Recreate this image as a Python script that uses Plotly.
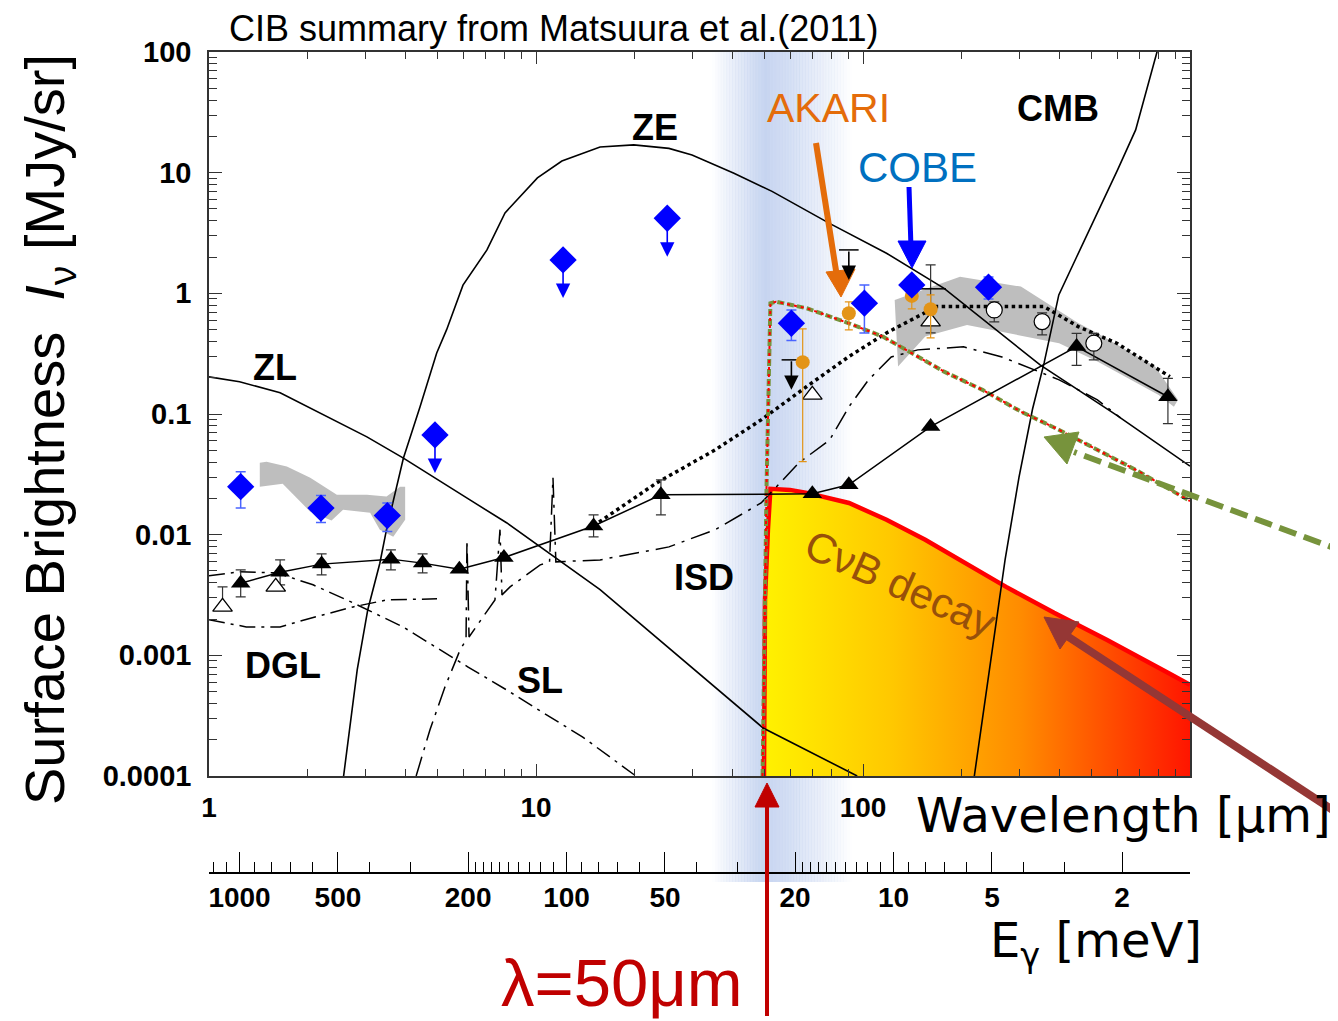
import numpy as np
import plotly.graph_objects as go

# ---------------- data: wavelength [um], surface brightness [MJy/sr] ----------------
zl_wl = [1.0, 1.24, 1.65, 2.19, 3.04, 3.92, 4.84, 6.28, 8.15, 10.1, 15.7, 49.5, 96.0]
zl_I = [0.203, 0.185, 0.150, 0.102, 0.0646, 0.0433, 0.0301, 0.0194, 0.0125, 0.0082, 0.0035, 0.00025, 0.0001]

ze_wl = [2.58, 2.84, 3.06, 3.33, 3.49, 3.93, 4.42, 4.97, 5.33, 5.98, 7.08, 8.04, 10.1, 12.0, 15.7,
         19.9, 25.5, 30.0, 40.3, 52.7, 79.0, 118, 177, 348, 596, 1000]
ze_I = [1e-4, 7.6e-4, 2.4e-3, 5.8e-3, 0.011, 0.043, 0.115, 0.32, 0.50, 1.17, 2.29, 4.64, 9.04, 12.5, 16.3,
        17.0, 15.9, 14.0, 9.9, 7.0, 3.8, 2.15, 1.1, 0.255, 0.098, 0.037]

cmb_wl = [219, 245, 272, 300, 330, 358, 397, 450, 521, 600, 682, 750, 792, 820]
cmb_I = [1e-4, 8.4e-4, 0.0062, 0.03, 0.11, 0.265, 0.97, 2.0, 4.6, 10.5, 22.6, 57, 98, 140]

sl_wl = [1.0, 1.24, 1.61, 2.08, 2.76, 3.92, 6.20, 8.10, 10.6, 13.9, 20.2]
sl_I = [0.00456, 0.00492, 0.00483, 0.00384, 0.00272, 0.00172, 0.00080, 0.00052, 0.00033, 0.00021, 0.0001]

dgl_wl = [1.0, 1.30, 1.65, 2.11, 2.76, 3.50, 4.98]
dgl_I = [0.00197, 0.00172, 0.00172, 0.00208, 0.00252, 0.00288, 0.00294]

isd_wl = [4.30, 4.74, 5.27, 5.86, 6.11, 6.15, 6.24, 6.70, 7.49, 7.76, 7.87, 8.33, 10.3, 11.0, 11.27, 11.5,
          15.7, 25.5, 35.3, 48.8, 63.7, 79.1, 90.5, 104, 122, 147, 203, 266, 398, 521, 613]
isd_I = [1e-4, 2.42e-4, 5.48e-4, 1.11e-3, 1.34e-3, 9.06e-3, 1.42e-3, 1.86e-3, 2.88e-3, 0.011, 3.17e-3,
         3.69e-3, 5.62e-3, 5.95e-3, 0.0296, 5.95e-3, 6.18e-3, 7.92e-3, 0.011, 0.0183, 0.0394, 0.061,
         0.1145, 0.192, 0.297, 0.34, 0.36, 0.297, 0.192, 0.131, 0.093]

cib_model_wl = [14.97, 23.4, 35.3, 48.8, 67.3, 90.5, 118, 155, 168, 358, 455, 597, 868]
cib_model_I = [0.0118, 0.0269, 0.0504, 0.0894, 0.169, 0.299, 0.47, 0.688, 0.776, 0.776, 0.53, 0.386, 0.204]

limit_wl = [49.3, 50.0, 50.7, 52.1, 54.2, 67.3, 90.5, 115, 135, 177, 232, 304, 398, 521, 683, 1000]
limit_I = [1e-4, 2.88e-3, 0.025, 0.828, 0.853, 0.752, 0.565, 0.438, 0.34, 0.2245, 0.1585, 0.1047,
           0.0738, 0.0504, 0.0344, 0.019]

cnb_wl = [49.8, 50.15, 51.2, 52.1, 59.8, 67.4, 90.6, 118, 155, 204, 274, 384, 558, 856, 1000, 1000]
cnb_I = [1e-4, 2.88e-3, 0.011, 0.024, 0.0235, 0.0222, 0.0183, 0.0133, 0.00906, 0.00584, 0.00369,
         0.00225, 0.00134, 0.000716, 0.00057, 1e-4]

nir_band_wl = [1.43, 1.50, 1.73, 2.04, 2.46, 3.04, 3.49, 3.84, 3.98,
               3.98, 3.66, 3.33, 3.11, 2.57, 2.37, 2.04, 1.68, 1.43]
nir_band_I = [0.0394, 0.0403, 0.0367, 0.0296, 0.0214, 0.0214, 0.0207, 0.0250, 0.0250,
              0.0133, 0.0096, 0.0110, 0.0152, 0.0161, 0.0131, 0.0155, 0.0264, 0.0250]

fir_band_wl = [125, 198, 304, 455, 521, 782, 919, 893, 802, 521, 398, 208, 155, 128]
fir_band_I = [0.882, 1.375, 1.137, 0.569, 0.467, 0.247, 0.131, 0.115, 0.144, 0.272, 0.386, 0.547, 0.438, 0.247]

tri_wl = [1.25, 1.65, 2.21, 3.60, 4.50, 5.83, 7.98, 15.0, 24.1, 70.0, 90.5, 161, 450, 856]
tri_I = [3.96e-3, 4.89e-3, 5.70e-3, 6.27e-3, 5.81e-3, 5.18e-3, 6.46e-3, 0.0118, 0.0214, 0.0218, 0.0259,
         0.0787, 0.362, 0.139]
tri_hi = [5.11e-3, 6.18e-3, 6.93e-3, 7.48e-3, 6.93e-3, None, None, 0.0146, 0.0284, None, None, None, 0.466, 0.197]
tri_lo = [3.05e-3, 3.84e-3, 4.65e-3, 5.11e-3, 4.83e-3, None, None, 0.0096, 0.0146, None, None, None, 0.253, 0.0833]

otri_wl = [1.10, 1.60, 70.0, 161]
otri_I = [2.52e-3, 3.69e-3, 0.144, 0.583]
otri_hi = [3.69e-3, None, None, 1.72]
otri_lo = [2.52e-3, None, None, 0.47]

dirbe_wl = [1.25, 2.20, 3.51, 60.4, 101, 141, 242]
dirbe_I = [0.0250, 0.0166, 0.0144, 0.565, 0.828, 1.174, 1.124]
dirbe_hi = [0.0333, 0.0211, 0.0183, 0.729, 1.174, 1.368, 1.368]
dirbe_lo = [0.0166, 0.0126, 0.0106, 0.406, 0.47, 1.0, 0.899]

dirbe_ul_wl = [4.91, 12.1, 25.2]
dirbe_ul_I = [0.0671, 1.89, 4.19]
dirbe_ul_tip = [0.0325, 0.916, 2.01]

akari_wl = [65.4, 90.5, 141, 161]
akari_I = [0.269, 0.684, 0.952, 0.739]
akari_hi = [0.507, 0.849, 1.174, 0.97]
akari_lo = [0.0403, 0.497, 0.743, 0.427]

ocirc_wl = [252, 353, 508]
ocirc_I = [0.729, 0.583, 0.386]
ocirc_hi = [0.849, 0.688, 0.466]
ocirc_lo = [0.58, 0.452, 0.281]

black_ul_wl = [60.4, 90.5]
black_ul_I = [0.281, 2.29]
black_ul_tip = [0.1585, 1.29]

bar_wl = [161]
bar_I = [1.09]

x_ticks = [1, 10, 100, 1000]
x_ticktext = ["1", "10", "100", ""]
y_ticks = [1e-4, 1e-3, 1e-2, 1e-1, 1, 10, 100]
y_ticktext = ["0.0001", "0.001", "0.01", "0.1", "1", "10", "100"]
e_ticks = [1000, 500, 200, 100, 50, 20, 10, 5, 2]
e_ticktext = ["1000", "500", "200", "100", "50", "20", "10", "5", "2"]
e_minor = [1200, 1100, 900, 800, 700, 600, 400, 300, 190, 180, 170, 160, 150, 140, 130, 120, 110,
           90, 80, 70, 60, 40, 30, 19, 18, 17, 16, 15, 14, 13, 12, 11, 9, 8, 7, 6, 4, 3]
HC = 1239.84  # meV * um

# ---------------- layout helpers (page pixels -> paper fractions) ----------------
BODY = 8                      # default body margin of the html page
L0, TOP, PW, PH = 209, 52, 981, 821
FIG_W, FIG_H = 1338 - BODY, 1021 - BODY


def PX(x):
    return (x - L0) / PW


def PY(y):
    return (TOP + PH - y) / PH


def err(vals, hi, lo):
    plus = [np.nan if h is None else h - v for v, h in zip(vals, hi)]
    minus = [np.nan if l is None else v - l for v, l in zip(vals, lo)]
    return plus, minus


BOLD = "Liberation Sans, Arial, sans-serif"
fig = go.Figure()

# gray bands
for bx, by in [(nir_band_wl, nir_band_I), (fir_band_wl, fir_band_I)]:
    fig.add_trace(go.Scatter(x=bx, y=by, mode="lines", fill="toself", fillcolor="#BEBEBE",
                             line=dict(width=0), hoverinfo="skip"))

# CvB decay region
fig.add_trace(go.Scatter(x=cnb_wl, y=cnb_I, mode="lines", fill="toself", line=dict(width=0),
                         fillgradient=dict(type="horizontal",
                                           colorscale=[[0, "#FFF200"], [0.3, "#FFC800"], [0.6, "#FF8C00"],
                                                       [1, "#FF1500"]]),
                         hoverinfo="skip"))
fig.add_trace(go.Scatter(x=cnb_wl[:-1], y=cnb_I[:-1], mode="lines", line=dict(color="#FF0000", width=4.5),
                         hoverinfo="skip"))

# model curves
for wx, wy in [(zl_wl, zl_I), (ze_wl, ze_I), (cmb_wl, cmb_I)]:
    fig.add_trace(go.Scatter(x=wx, y=wy, mode="lines", line=dict(color="black", width=1.6)))
for wx, wy in [(sl_wl, sl_I), (dgl_wl, dgl_I)]:
    fig.add_trace(go.Scatter(x=wx, y=wy, mode="lines",
                             line=dict(color="black", width=1.5, dash="16px,6px,3px,6px")))
fig.add_trace(go.Scatter(x=isd_wl, y=isd_I, mode="lines",
                         line=dict(color="black", width=1.5, dash="20px,7px,3px,7px")))
fig.add_trace(go.Scatter(x=cib_model_wl, y=cib_model_I, mode="lines",
                         line=dict(color="black", width=3.5, dash="dot")))
fig.add_trace(go.Scatter(x=limit_wl, y=limit_I, mode="lines",
                         line=dict(color="#77933C", width=4, dash="7px,3px")))
fig.add_trace(go.Scatter(x=limit_wl, y=limit_I, mode="lines",
                         line=dict(color="#FF0000", width=2, dash="3px,4px")))

# triangles with connecting line
p, m = err(tri_I, tri_hi, tri_lo)
fig.add_trace(go.Scatter(x=tri_wl, y=tri_I, mode="lines+markers",
                         line=dict(color="black", width=1.5),
                         marker=dict(symbol="triangle-up", size=17, color="black"),
                         error_y=dict(type="data", array=p, arrayminus=m, color="#333333",
                                      thickness=1.2, width=5)))
p, m = err(otri_I, otri_hi, otri_lo)
fig.add_trace(go.Scatter(x=otri_wl, y=otri_I, mode="markers",
                         marker=dict(symbol="triangle-up", size=17, color="white",
                                     line=dict(color="black", width=1.3)),
                         error_y=dict(type="data", array=p, arrayminus=m, color="#333333",
                                      thickness=1.2, width=5)))
fig.add_trace(go.Scatter(x=bar_wl, y=bar_I, mode="markers",
                         marker=dict(symbol="line-ew", size=22, line=dict(color="black", width=1.5))))
fig.add_trace(go.Scatter(x=black_ul_wl, y=black_ul_I, mode="markers",
                         marker=dict(symbol="line-ew", size=14, line=dict(color="black", width=1.5))))

# AKARI
p, m = err(akari_I, akari_hi, akari_lo)
fig.add_trace(go.Scatter(x=akari_wl, y=akari_I, mode="markers",
                         marker=dict(symbol="circle", size=14, color="#E39417"),
                         error_y=dict(type="data", array=p, arrayminus=m, color="#E39417",
                                      thickness=1.2, width=4)))
# open circles
p, m = err(ocirc_I, ocirc_hi, ocirc_lo)
fig.add_trace(go.Scatter(x=ocirc_wl, y=ocirc_I, mode="markers",
                         marker=dict(symbol="circle", size=16, color="white",
                                     line=dict(color="black", width=1.2)),
                         error_y=dict(type="data", array=p, arrayminus=m, color="#333333",
                                      thickness=1.2, width=5)))
# DIRBE
p, m = err(dirbe_I, dirbe_hi, dirbe_lo)
fig.add_trace(go.Scatter(x=dirbe_wl, y=dirbe_I, mode="markers",
                         marker=dict(symbol="diamond", size=21, color="#0000FF"),
                         error_y=dict(type="data", array=p, arrayminus=m, color="#4A64FF",
                                      thickness=1.5, width=5)))
fig.add_trace(go.Scatter(x=dirbe_ul_wl, y=dirbe_ul_I, mode="markers",
                         marker=dict(symbol="diamond", size=21, color="#0000FF")))

# dummy trace for the energy axis
fig.add_trace(go.Scatter(x=[HC / 1.0, HC / 1000.0], y=[1e-3, 1e-3], xaxis="x2", mode="markers",
                         marker=dict(opacity=0), hoverinfo="skip"))

ann = []
for w, v, t in zip(dirbe_ul_wl, dirbe_ul_I, dirbe_ul_tip):
    ann.append(dict(x=np.log10(w), y=np.log10(t), ax=np.log10(w), ay=np.log10(v), xref="x", yref="y",
                    axref="x", ayref="y", text="", showarrow=True, arrowhead=2, arrowsize=1.8,
                    arrowwidth=1.6, arrowcolor="#0000FF"))
for w, v, t in zip(black_ul_wl, black_ul_I, black_ul_tip):
    ann.append(dict(x=np.log10(w), y=np.log10(t), ax=np.log10(w), ay=np.log10(v), xref="x", yref="y",
                    axref="x", ayref="y", text="", showarrow=True, arrowhead=2, arrowsize=1.8,
                    arrowwidth=1.6, arrowcolor="black"))


def label(x, y, text, size, color="black", family=BOLD, angle=0):
    ann.append(dict(x=PX(x), y=PY(y), xref="paper", yref="paper", text=text, showarrow=False,
                    xanchor="center", yanchor="middle", textangle=angle, borderpad=0,
                    font=dict(family=family, size=size, color=color)))


label(554, 29, "CIB summary from Matsuura et al.(2011)", 36)
label(655, 127, "<b>ZE</b>", 36)
label(275, 367, "<b>ZL</b>", 36)
label(283, 665, "<b>DGL</b>", 36)
label(540, 680, "<b>SL</b>", 36)
label(704, 577, "<b>ISD</b>", 36)
label(1058, 108, "<b>CMB</b>", 36)
label(828, 108, "AKARI", 41, "#E46C0A")
label(917, 168, "COBE", 42, "#0070C0")
label(900, 583, "CνB decay", 42, "#98500A", angle=24)
label(1123, 815, "Wavelength [μm]", 48, family="DejaVu Sans")
label(1096, 944, "E<sub>γ</sub> [meV]", 48, family="DejaVu Sans")
label(622, 982, "λ=50μm", 67, "#C00000")
label(48, 430, "Surface Brightness  <i>I</i><sub>ν</sub> [MJy/sr]", 56, angle=-90)

shapes = []
# blue highlight band around 50 um
bl, bp, br, n = 712, 766, 852, 48
for i in range(n):
    x0 = bl + i * (br - bl) / n
    x1 = bl + (i + 1) * (br - bl) / n
    xm = 0.5 * (x0 + x1)
    a = (xm - bl) / (bp - bl) if xm < bp else (br - xm) / (br - bp)
    shapes.append(dict(type="rect", xref="paper", yref="paper", x0=PX(x0), x1=PX(x1) + 0.0005,
                       y0=PY(882), y1=PY(52), fillcolor=f"rgba(198,212,240,{a:.3f})",
                       line=dict(width=0), layer="below"))


def arrow(tail, neck, tip, b1, b2, color, width, dash=None):
    line = dict(color=color, width=width)
    if dash:
        line["dash"] = dash
    shapes.append(dict(type="line", xref="paper", yref="paper", x0=PX(tail[0]), y0=PY(tail[1]),
                       x1=PX(neck[0]), y1=PY(neck[1]), line=line))
    path = "M {},{} L {},{} L {},{} Z".format(PX(tip[0]), PY(tip[1]), PX(b1[0]), PY(b1[1]), PX(b2[0]), PY(b2[1]))
    shapes.append(dict(type="path", xref="paper", yref="paper", path=path, fillcolor=color,
                       line=dict(color=color, width=1)))


arrow((816, 143), (837, 277), (841, 297), (826, 272), (855, 269), "#E46C0A", 6)
arrow((909, 187), (911, 248), (912, 268), (898, 241), (926, 241), "#0000FF", 5)
arrow((767, 1016), (767, 802), (767, 783), (755, 807), (779, 807), "#C00000", 4)
arrow((1345, 552), (1074, 452), (1044, 437), (1079, 432), (1067, 464), "#77933C", 6, dash="18px,8px")
arrow((1345, 818), (1064, 634), (1044, 617), (1079, 622), (1060, 649), "#953735", 8)

tickfont = dict(family=BOLD, size=29, color="black", weight="bold")
fig.update_layout(
    width=FIG_W, height=FIG_H, showlegend=False,
    margin=dict(l=L0 - BODY, r=FIG_W - (L0 - BODY) - PW, t=TOP - BODY, b=FIG_H - (TOP - BODY) - PH,
                autoexpand=False),
    paper_bgcolor="white", plot_bgcolor="rgba(0,0,0,0)",
    xaxis=dict(type="log", range=[0, 3], domain=[0, 1], showgrid=False, zeroline=False,
               showline=True, linecolor="#333333", linewidth=1.6, mirror="ticks",
               ticks="inside", ticklen=12, tickwidth=1.4, tickcolor="#333333",
               tickvals=x_ticks, ticktext=x_ticktext, tickfont=dict(tickfont, size=28), ticklabelstandoff=6,
               minor=dict(ticks="inside", ticklen=7, tickwidth=1.2, tickcolor="#333333",
                          tickvals=[k * 10 ** e for e in range(3) for k in range(2, 10)])),
    xaxis2=dict(type="log", range=[np.log10(HC), np.log10(HC / 1000.0)], overlaying="x",
                anchor="free", position=0, side="bottom", showgrid=False, zeroline=False,
                showline=True, linecolor="black", linewidth=1.6,
                ticks="inside", ticklen=20, tickwidth=1.4, tickcolor="black",
                tickvals=e_ticks, ticktext=e_ticktext, tickfont=dict(tickfont, size=28), ticklabelstandoff=0,
                minor=dict(ticks="inside", ticklen=10, tickwidth=1.2, tickcolor="black", tickvals=e_minor)),
    yaxis=dict(type="log", range=[-4, 2], domain=[(TOP + PH - 776) / PH, 1], showgrid=False, zeroline=False,
               showline=True, linecolor="#333333", linewidth=1.6, mirror="ticks",
               ticks="inside", ticklen=13, tickwidth=1.4, tickcolor="#333333",
               tickvals=y_ticks, ticktext=y_ticktext, tickfont=tickfont, ticklabelstandoff=10,
               minor=dict(ticks="inside", ticklen=8, tickwidth=1.2, tickcolor="#333333",
                          tickvals=[k * 10.0 ** e for e in range(-4, 2) for k in range(2, 10)])),
    annotations=ann, shapes=shapes,
)

fig.write_html("out.html")
